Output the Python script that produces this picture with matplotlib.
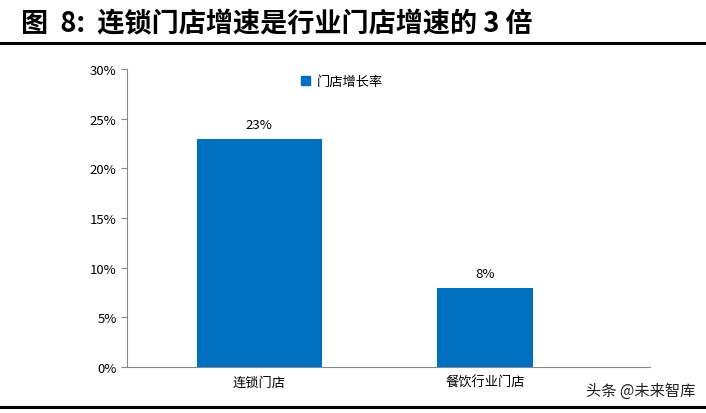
import matplotlib
matplotlib.use("Agg")
import matplotlib.pyplot as plt
from matplotlib.lines import Line2D
from matplotlib.patches import Patch

plt.rcParams['font.family'] = ['Noto Sans CJK SC', 'DejaVu Sans']

categories = ["连锁门店", "餐饮行业门店"]
values = [23, 8]
series_name = "门店增长率"
yticks = [0, 5, 10, 15, 20, 25, 30]

fig = plt.figure(figsize=(7.06, 4.14), dpi=100)
ax = fig.add_axes([0.18, 0.111, 0.741, 0.720])
color = "#0070C0"
pos = [0, 1]
widths = [0.553, 0.425]
ax.bar(pos, values, width=widths, color=color)
for p, v in zip(pos, values):
    ax.text(p, v + 0.8, f"{v}%", ha="center", va="bottom", fontsize=9.5)
ax.set_xlim(-0.584, 1.730)
ax.set_ylim(0, 30)
ax.set_yticks(yticks)
ax.set_yticklabels([f"{t}%" for t in yticks], fontsize=9.5)
ax.set_xticks(pos)
ax.set_xticklabels(categories, fontsize=9.5)
for s in ["top", "right"]:
    ax.spines[s].set_visible(False)
ax.spines["left"].set_color("#888888")
ax.spines["bottom"].set_color("#888888")
ax.tick_params(axis="x", length=0, pad=6)
ax.tick_params(axis="y", length=4, color="#888888")
ax.legend([Patch(color=color)], [series_name], loc="upper left",
          bbox_to_anchor=(0.31, 1.02), frameon=False, fontsize=9.5,
          handlelength=0.7, handleheight=0.7, handletextpad=0.5)

fig.text(0.03, 0.94, "图  8:  连锁门店增速是行业门店增速的 3 倍", fontsize=19.5,
         fontweight="bold", va="center", ha="left")
fig.add_artist(Line2D([0.0, 1.0], [0.893, 0.893], color="black", lw=2.2))
fig.add_artist(Line2D([0.0, 1.0], [0.015, 0.015], color="black", lw=2.2))
fig.text(0.985, 0.055, "头条 @未来智库", fontsize=11, ha="right", va="center", color="#222222")

fig.savefig("out.png", dpi=100)
